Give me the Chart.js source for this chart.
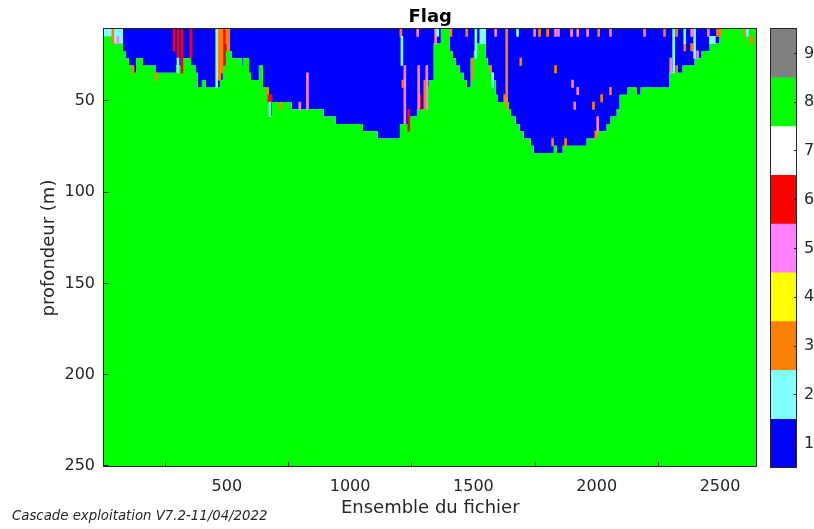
<!DOCTYPE html>
<html>
<head>
<meta charset="utf-8">
<title>Flag</title>
<script src="https://cdn.jsdelivr.net/npm/chart.js@4.4.1/dist/chart.umd.min.js"></script>
<style>
  html, body { margin: 0; padding: 0; background: #fff; }
  #wrap { position: relative; width: 814px; height: 529px; }
  #wrap canvas { position: absolute; left: 0; top: 0; }
  #credit { position: absolute; left: 12px; top: 508px; font: italic 13.3px "DejaVu Sans", sans-serif; color: #262626; white-space: nowrap; }
</style>
</head>
<body>
<div id="wrap">
  <canvas id="flag-chart" width="814" height="529"></canvas>
  <canvas id="flag-bar" width="814" height="529"></canvas>
  <div id="credit">Cascade exploitation V7.2-11/04/2022</div>
</div>
<script>
// Flag section: depth (m) vs ensemble number

// limits of the grid
const depthTop = 10.6;
const depthBottom = 250.6;
const ensMax = 2650;

const xTicks = [500, 1000, 1500, 2000, 2500];
const yTicks = [50, 100, 150, 200, 250];
const flagLevels = [1, 2, 3, 4, 5, 6, 7, 8, 9];
const flagColors = ['#0000ff', '#80ffff', '#ff8000', '#ffff00', '#ff80ff', '#ff0000', '#ffffff', '#00ff00', '#808080'];

// depth where flag 8 (good) starts, from each ensemble on
const boundX = [0, 38, 79, 91, 103, 116, 132, 160, 213, 294, 314, 355, 375, 383, 399, 415, 472, 484, 496, 505,
  521, 561, 565, 590, 598, 630, 646, 671, 683, 764, 894, 942, 1052, 1112, 1202, 1242, 1271, 1307, 1319, 1339,
  1368, 1404, 1416, 1428, 1445, 1461, 1473, 1489, 1502, 1514, 1550, 1558, 1570, 1583, 1591, 1600, 1643, 1652,
  1672, 1688, 1704, 1733, 1745, 1826, 1838, 1862, 1959, 1996, 2040, 2056, 2081, 2093, 2125, 2162, 2178, 2295,
  2348, 2397, 2425, 2458, 2498, 2650];
const boundDepth = [14.6, 18.6, 22.6, 26.6, 30.6, 34.6, 26.6, 30.6, 34.6, 30.6, 26.6, 30.6, 34.6, 42.6, 38.6, 42.6, 38.6, 30.6, 18.6, 22.6,
  26.6, 30.6, 26.6, 34.6, 38.6, 30.6, 42.6, 58.6, 50.6, 54.6, 58.6, 62.6, 66.6, 70.6, 62.6, 58.6, 54.6, 42.6, 38.6, 18.6,
  10.6, 22.6, 26.6, 30.6, 34.6, 38.6, 42.6, 26.6, 22.6, 18.6, 26.6, 30.6, 34.6, 38.6, 46.6, 50.6, 54.6, 58.6,
  62.6, 66.6, 70.6, 74.6, 78.6, 74.6, 78.6, 74.6, 70.6, 66.6, 62.6, 58.6, 54.6, 46.6, 42.6, 46.6, 42.6, 34.6,
  30.6, 26.6, 22.6, 18.6, 10.6, 10.6];

// flag 2 block at the start of the file
const patchX = [0, 38, 79];
const patchDepth = [14.6, 18.6, 18.6];

// isolated flagged cells (ensemble, top, bottom, flag)
const spikeX = [38, 58, 286, 302, 302, 318, 355, 120, 213, 459, 464, 472, 480, 488, 494, 500, 508, 663, 671, 679,
  675, 719, 796, 827, 1206, 1210, 1214, 1222, 1238, 1274, 1278, 1283, 1303, 1311, 1347, 1355, 1409, 1473, 1497, 1510,
  1530, 1538, 1546, 1570, 1578, 1590, 1627, 1635, 1679, 1692, 1748, 1768, 1801, 1833, 1845, 1898, 1923, 1963, 2008, 2056,
  1833, 1902, 1923, 1911, 1987, 2020, 2056, 2004, 1996, 1874, 1821, 2194, 2275, 2324, 2385, 2453, 2490, 2502, 2599, 2611,
  2357, 2397, 2312, 2300, 2324, 2357, 2385, 2409, 2461, 2469, 2477, 2627];
const spikeTop = [10.6, 14.6, 10.6, 10.6, 26.6, 10.6, 10.6, 30.6, 34.6, 10.6, 10.6, 10.6, 10.6, 10.6, 10.6, 10.6, 10.6, 42.6, 46.6, 46.6,
  50.6, 50.6, 50.6, 34.6, 10.6, 14.6, 38.6, 30.6, 54.6, 10.6, 30.6, 46.6, 38.6, 30.6, 10.6, 10.6, 10.6, 10.6, 26.6, 10.6,
  10.6, 10.6, 10.6, 30.6, 34.6, 10.6, 46.6, 10.6, 10.6, 26.6, 10.6, 10.6, 10.6, 10.6, 10.6, 10.6, 10.6, 10.6, 10.6, 10.6,
  30.6, 38.6, 42.6, 50.6, 50.6, 46.6, 42.6, 58.6, 66.6, 70.6, 70.6, 10.6, 10.6, 10.6, 10.6, 10.6, 10.6, 10.6, 10.6, 10.6,
  10.6, 10.6, 10.6, 26.6, 30.6, 18.6, 18.6, 22.6, 14.6, 14.6, 14.6, 14.6];
const spikeBottom = [18.6, 18.6, 22.6, 26.6, 34.6, 34.6, 26.6, 34.6, 38.6, 42.6, 38.6, 38.6, 34.6, 30.6, 22.6, 18.6, 22.6, 46.6, 50.6, 50.6,
  58.6, 54.6, 54.6, 54.6, 14.6, 30.6, 42.6, 62.6, 66.6, 14.6, 54.6, 54.6, 54.6, 54.6, 18.6, 14.6, 14.6, 14.6, 38.6, 26.6,
  18.6, 18.6, 18.6, 34.6, 42.6, 14.6, 50.6, 54.6, 14.6, 30.6, 14.6, 14.6, 14.6, 14.6, 14.6, 14.6, 14.6, 14.6, 14.6, 14.6,
  34.6, 42.6, 46.6, 54.6, 54.6, 50.6, 46.6, 66.6, 70.6, 74.6, 74.6, 14.6, 14.6, 14.6, 14.6, 14.6, 14.6, 14.6, 14.6, 14.6,
  18.6, 26.6, 34.6, 34.6, 34.6, 22.6, 22.6, 26.6, 18.6, 18.6, 18.6, 18.6];
const spikeFlag = [3, 5, 6, 6, 2, 6, 6, 3, 3, 2, 3, 3, 3, 6, 6, 3, 3, 3, 6, 6,
  2, 3, 5, 5, 3, 2, 3, 5, 6, 5, 5, 6, 3, 5, 5, 2, 3, 3, 3, 2,
  2, 2, 2, 3, 2, 5, 3, 3, 2, 3, 5, 3, 3, 5, 5, 5, 5, 5, 3, 5,
  3, 5, 5, 5, 3, 3, 3, 5, 3, 3, 3, 5, 3, 3, 5, 5, 3, 3, 3, 2,
  2, 2, 2, 5, 3, 3, 3, 5, 2, 2, 2, 3];

Chart.defaults.font.family = '"DejaVu Sans", sans-serif';
Chart.defaults.font.size = 16;
Chart.defaults.color = '#262626';

// box around the plot area
const framePlugin = {
  id: 'frame',
  afterDraw(chart) {
    const { ctx, chartArea: a } = chart;
    const l = Math.round(a.left) - 0.5, t = Math.round(a.top) - 0.5;
    const r = Math.round(a.right) - 0.5, b = Math.round(a.bottom) - 0.5;
    ctx.save();
    ctx.strokeStyle = '#262626';
    ctx.lineWidth = 1;
    ctx.strokeRect(l, t, r - l, b - t);
    ctx.restore();
  }
};

function stepLine(xs, ys, fillTo, color, order) {
  return {
    type: 'line',
    data: xs.map((x, i) => ({ x: x, y: ys[i] })),
    stepped: true,
    fill: { value: fillTo },
    backgroundColor: color,
    borderColor: 'rgba(0,0,0,0)',
    borderWidth: 0,
    pointRadius: 0,
    order: order
  };
}

const spikeSets = [2, 3, 5, 6].map(f => ({
  type: 'bar',
  data: spikeX.map((x, i) => spikeFlag[i] === f ? { x: x, y: [spikeTop[i], spikeBottom[i]] } : null).filter(p => p),
  backgroundColor: flagColors[f - 1],
  borderWidth: 0,
  barThickness: 2,
  grouped: false,
  order: 1
}));

new Chart(document.getElementById('flag-chart'), {
  type: 'line',
  data: {
    datasets: [
      stepLine(boundX, boundDepth, depthTop, flagColors[0], 10),
      stepLine(boundX, boundDepth, depthBottom, flagColors[7], 9),
      stepLine(patchX, patchDepth, depthTop, flagColors[1], 5)
    ].concat(spikeSets)
  },
  options: {
    responsive: false,
    animation: false,
    events: [],
    layout: { padding: { left: 30, right: 57, top: 0, bottom: 0 } },
    plugins: {
      legend: { display: false },
      tooltip: { enabled: false },
      title: {
        display: true, text: 'Flag', color: '#000', fullSize: false,
        font: { size: 18, weight: 'bold' }, padding: { top: 7, bottom: 0.4 }
      }
    },
    scales: {
      x: {
        type: 'linear', min: 0, max: ensMax, offset: false,
        afterBuildTicks: s => { s.ticks = xTicks.map(v => ({ value: v })); },
        afterFit: s => { s.height = 62; },
        grid: { drawOnChartArea: false, tickLength: -5, color: '#262626', z: 1 },
        border: { display: false },
        ticks: { padding: 15, maxRotation: 0, callback: v => String(v) },
        title: { display: true, text: 'Ensemble du fichier', font: { size: 18 }, padding: { top: 0, bottom: 10 } }
      },
      y: {
        type: 'linear', reverse: true, min: depthTop, max: depthBottom,
        afterBuildTicks: s => { s.ticks = yTicks.map(v => ({ value: v })); },
        afterFit: s => { s.width = 73.5; },
        grid: { drawOnChartArea: false, tickLength: -5, color: '#262626', z: 1 },
        border: { display: false },
        ticks: { padding: 13.5, callback: v => String(v) },
        title: { display: true, text: 'profondeur (m)', font: { size: 18 }, padding: { top: 9, bottom: 0 } }
      }
    }
  },
  plugins: [framePlugin]
});

// colour bar
new Chart(document.getElementById('flag-bar'), {
  type: 'bar',
  data: {
    labels: [''],
    datasets: flagLevels.map((f, i) => ({
      data: [[f - 0.5, f + 0.5]],
      backgroundColor: flagColors[i],
      borderWidth: 0,
      barPercentage: 1,
      categoryPercentage: 1,
      grouped: false
    }))
  },
  options: {
    responsive: false,
    animation: false,
    events: [],
    layout: { padding: { left: 771, right: 0, top: 29, bottom: 61 } },
    plugins: { legend: { display: false }, tooltip: { enabled: false } },
    scales: {
      x: { display: false },
      y: {
        position: 'right', min: 0.5, max: 9.5,
        afterBuildTicks: s => { s.ticks = flagLevels.map(v => ({ value: v })); },
        afterFit: s => { s.width = 17; },
        grid: { drawOnChartArea: false, tickLength: -3, color: '#262626', z: 1 },
        border: { display: false },
        ticks: { padding: 10 }
      }
    }
  },
  plugins: [framePlugin]
});
</script>
</body>
</html>
